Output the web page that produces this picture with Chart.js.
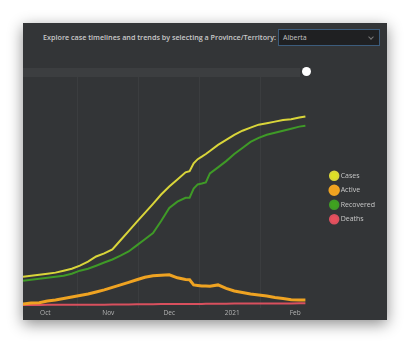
<!DOCTYPE html>
<html>
<head>
<meta charset="utf-8">
<script src="https://cdn.jsdelivr.net/npm/chart.js@4.4.1/dist/chart.umd.min.js"></script>
<style>
    html, body { margin: 0; padding: 0; background: #ffffff; }
    body { width: 410px; height: 344px; position: relative; overflow: hidden; font-family: "Open Sans", "DejaVu Sans", sans-serif; }
    #panel { position: absolute; left: 23px; top: 23px; width: 364px; height: 297px; background: #333537;
             box-shadow: 0 4px 14px rgba(0, 0, 0, 0.45); }
    #prompt { position: absolute; right: 111px; top: 9px; color: #c9c9c9; font-size: 7.2px; font-weight: 600; white-space: nowrap; }
    #select { position: absolute; left: 255px; top: 6px; width: 100px; height: 15px; background: #1f2022;
              border: 1px solid #3c5c7c; color: #c4c4c4; font-size: 7px; line-height: 15px; box-sizing: content-box; }
    #select span { position: absolute; left: 4px; top: 0; }
    #select i { position: absolute; right: 6px; top: 5px; width: 3px; height: 3px; border-right: 1px solid #777; border-bottom: 1px solid #777; transform: rotate(45deg); }
    #track { position: absolute; left: 0; top: 45px; width: 277px; height: 9px; background: #3c3e40; }
    #knob { position: absolute; left: 279px; top: 44px; width: 9px; height: 9px; border-radius: 50%; background: #ffffff; }
    #chartBox { position: absolute; left: 0; top: 54px; width: 364px; height: 243px; }
</style>
</head>
<body>
<div id="panel">
    <div id="prompt">Explore case timelines and trends by selecting a Province/Territory:</div>
    <div id="select"><span>Alberta</span><i></i></div>
    <div id="track"></div>
    <div id="knob"></div>
    <div id="chartBox"><canvas id="timelineChart" width="364" height="243"></canvas></div>
</div>
<script>
// Days counted from Sept 20, 2020
const days = [0, 4, 8, 12, 16, 20, 24, 28, 32, 36, 40, 44, 48, 52, 56, 60, 64, 68, 72, 76, 80,
              82, 84, 86, 88, 90, 92, 96, 100, 104, 108, 112, 116, 120, 124, 128, 132, 136, 139];

// Values in thousands
const cases = [17.7, 18.2, 18.8, 19.4, 20.0, 21.1, 22.2, 23.9, 26.2, 29.1, 30.8, 33.1, 38.2, 43.3, 48.5, 53.6, 58.7, 63.9, 68.4, 72.4, 76.4,
               77.0, 81.5, 83.8, 85.2, 86.7, 88.4, 91.8, 94.6, 97.5, 99.8, 101.5, 103.2, 104.0, 104.9, 105.8, 106.3, 107.2, 107.8];
const active = [2.3, 2.9, 3.1, 4.0, 4.6, 5.4, 6.3, 7.1, 8.0, 9.1, 10.3, 11.7, 13.1, 14.5, 16.0, 17.4, 18.2, 18.5, 18.8, 17.1, 16.2,
                16.0, 13.1, 12.8, 12.5, 12.5, 12.3, 13.1, 11.1, 9.7, 8.8, 8.0, 7.4, 6.8, 6.0, 5.4, 4.8, 4.6, 4.6];
const recovered = [15.4, 16.0, 16.5, 17.1, 17.7, 18.2, 19.4, 21.1, 22.2, 23.9, 25.7, 27.4, 29.6, 31.9, 35.3, 38.8, 42.2, 49.0, 56.4, 59.9, 62.1,
                   62.1, 67.3, 69.6, 70.1, 70.7, 75.8, 79.2, 82.7, 86.7, 90.1, 93.5, 95.8, 97.5, 98.6, 99.8, 100.9, 102.1, 102.6];
const deaths = [1.8, 1.8, 1.8, 1.9, 1.9, 1.9, 1.9, 2.0, 2.0, 2.0, 2.0, 2.1, 2.1, 2.1, 2.2, 2.2, 2.2, 2.3, 2.3, 2.3, 2.4,
                2.4, 2.4, 2.4, 2.4, 2.5, 2.5, 2.5, 2.5, 2.6, 2.6, 2.6, 2.6, 2.7, 2.7, 2.7, 2.7, 2.8, 2.8];

// Month tick labels (day index of the 1st of each month)
const monthDays = [11, 42, 72, 103, 134];
const monthLabels = ['Oct', 'Nov', 'Dec', '2021', 'Feb'];
// Faint vertical grid lines (mid-month)
const gridDays = [27, 57, 87, 117];

function toPoints(values) {
    return values.map((v, i) => ({ x: days[i], y: v }));
}

const ctx = document.getElementById('timelineChart').getContext('2d');
new Chart(ctx, {
    type: 'line',
    data: {
        datasets: [
            { label: 'Cases', data: toPoints(cases), borderColor: '#d9d53a', backgroundColor: '#dde025', borderWidth: 2 },
            { label: 'Active', data: toPoints(active), borderColor: '#efa322', backgroundColor: '#f0a21e', borderWidth: 3 },
            { label: 'Recovered', data: toPoints(recovered), borderColor: '#3f9a27', backgroundColor: '#3fa21f', borderWidth: 2 },
            { label: 'Deaths', data: toPoints(deaths), borderColor: '#d9505e', backgroundColor: '#e8505c', borderWidth: 2 }
        ]
    },
    options: {
        responsive: false,
        animation: false,
        layout: { padding: { left: 0, right: 2, top: 0, bottom: 2 } },
        elements: { point: { radius: 0 }, line: { tension: 0 } },
        scales: {
            x: {
                type: 'linear',
                min: 0,
                max: 148,
                border: { display: false },
                grid: { display: false, drawTicks: false },
                afterBuildTicks: axis => { axis.ticks = monthDays.map(v => ({ value: v })); },
                ticks: {
                    padding: 1,
                    color: '#b4b4b4',
                    font: { family: 'Open Sans', size: 6.5 },
                    maxRotation: 0,
                    callback: value => monthLabels[monthDays.indexOf(value)]
                }
            },
            xGrid: {
                type: 'linear',
                axis: 'x',
                position: 'bottom',
                min: 0,
                max: 148,
                border: { display: false },
                grid: { color: 'rgba(255,255,255,0.045)', drawTicks: false },
                afterBuildTicks: axis => { axis.ticks = gridDays.map(v => ({ value: v })); },
                ticks: { display: false }
            },
            y: {
                display: false,
                min: 0,
                max: 130
            }
        },
        plugins: {
            tooltip: { enabled: false },
            legend: {
                position: 'right',
                labels: {
                    usePointStyle: true,
                    pointStyle: 'circle',
                    boxWidth: 6,
                    boxHeight: 6,
                    padding: 7.5,
                    color: '#c8c8c8',
                    font: { family: 'Open Sans', size: 7 }
                }
            }
        }
    }
});
</script>
</body>
</html>
